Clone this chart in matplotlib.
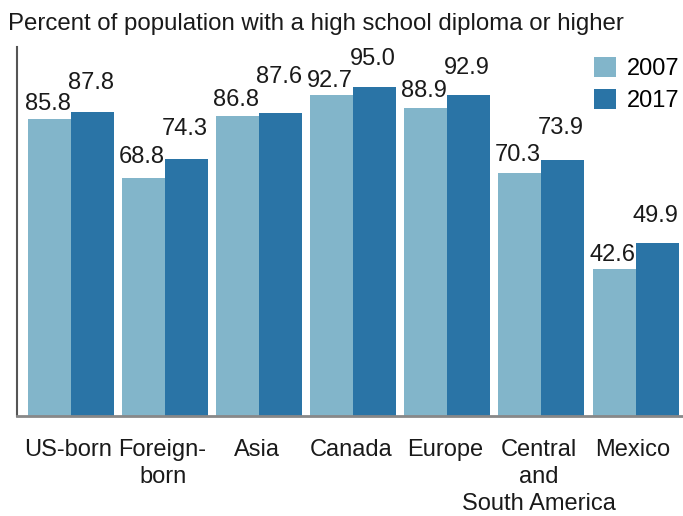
import matplotlib
matplotlib.use("Agg")
import matplotlib.pyplot as plt
import numpy as np

plt.rcParams['font.family'] = ['Liberation Sans', 'DejaVu Sans']

categories = ["US-born", "Foreign-\nborn", "Asia", "Canada", "Europe", "Central\nand\nSouth America", "Mexico"]
v2007 = [85.8, 68.8, 86.8, 92.7, 88.9, 70.3, 42.6]
v2017 = [87.8, 74.3, 87.6, 95.0, 92.9, 73.9, 49.9]
series_labels = ["2007", "2017"]

# label baseline gap above bar top (pixels), as placed in the original
gap2007 = [9, 15, 10, 8, 11, 12, 8]
gap2017 = [23, 24, 30, 22, 21, 26, 21]

c07 = "#82b5ca"
c17 = "#2a74a6"
txt = "#1a1a1a"
PX = 0.72  # points per pixel at 100 dpi
W, H = 683, 516

fig = plt.figure(figsize=(6.83, 5.16), dpi=100)
ax = fig.add_axes([17/W, (H-416)/H, 1 - 17/W, 369/H])

x = np.arange(len(categories))
w = 0.457
b1 = ax.bar(x - w/2, v2007, w, color=c07, label=series_labels[0])
b2 = ax.bar(x + w/2, v2017, w, color=c17, label=series_labels[1])

for bars, vals, gaps in ((b1, v2007, gap2007), (b2, v2017, gap2017)):
    for r, v, g in zip(bars, vals, gaps):
        ax.annotate(f"{v:.1f}", (r.get_x() + r.get_width()/2, v), xytext=(-2*PX, g*PX),
                    textcoords="offset points", ha="center", va="baseline",
                    fontsize=17, color=txt, annotation_clip=False)

ax.set_xlim(-0.574, 6.504)
ax.set_ylim(0, 369/3.46)
ax.set_yticks([])
ax.set_xticks([])
for xi, cat in zip(x, categories):
    for k, line in enumerate(cat.split("\n")):
        ax.annotate(line, (xi, 0), xytext=(-2.5*PX, -(40 + 27*k)*PX),
                    textcoords="offset points", ha="center", va="baseline",
                    fontsize=17, color=txt, annotation_clip=False)

for s in ("top", "right"):
    ax.spines[s].set_visible(False)
ax.spines["left"].set_color("#555555")
ax.spines["left"].set_linewidth(1.5)
ax.spines["bottom"].set_color("#888888")
ax.spines["bottom"].set_linewidth(2)

leg = ax.legend(loc="upper right", bbox_to_anchor=(680/W, 1 - 57/H),
                bbox_transform=fig.transFigure, frameon=False, fontsize=17,
                handlelength=0.93, handleheight=0.93, handletextpad=0.47, labelspacing=0.36,
                borderaxespad=0.0, borderpad=0.0)

fig.text(8/W, 1 - 30/H, "Percent of population with a high school diploma or higher",
         fontsize=17.3, va="baseline", ha="left", color=txt)

fig.savefig("out.png", dpi=100)
